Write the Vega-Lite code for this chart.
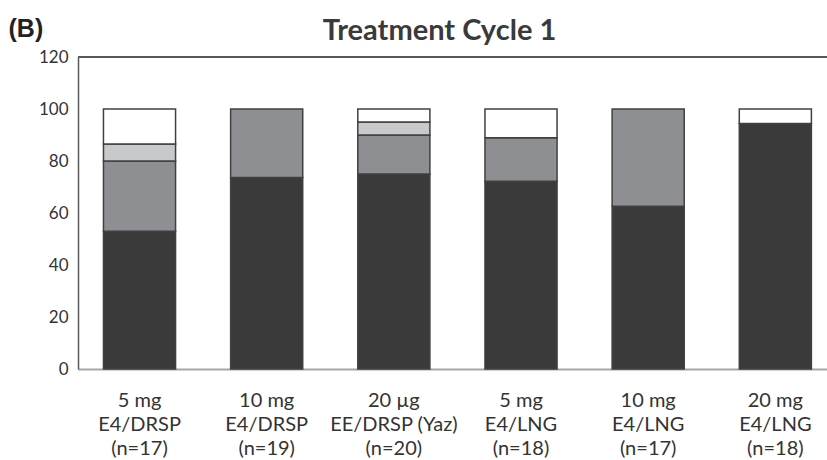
{
  "$schema": "https://vega.github.io/schema/vega-lite/v6.json",
  "width": 749,
  "height": 312,
  "autosize": {"type": "none"},
  "padding": {"left": 78, "top": 57, "right": 0, "bottom": 91},
  "background": "white",
  "title": {
    "text": "Treatment Cycle 1",
    "font": "Lato",
    "fontSize": 29,
    "fontWeight": "bold",
    "color": "#3a3a3a",
    "anchor": "middle",
    "frame": "group",
    "dx": -13,
    "dy": 67,
    "baseline": "alphabetic",
    "offset": 14
  },
  "config": {
    "view": {"stroke": null},
    "font": "Lato"
  },
  "data": {
    "values": [
      {"group": "5 mg|E4/DRSP|(n=17)", "level": "Level 1", "rank": 1, "value": 53},
      {"group": "5 mg|E4/DRSP|(n=17)", "level": "Level 2", "rank": 2, "value": 27},
      {"group": "5 mg|E4/DRSP|(n=17)", "level": "Level 3", "rank": 3, "value": 6.5},
      {"group": "5 mg|E4/DRSP|(n=17)", "level": "Level 4", "rank": 4, "value": 13.5},
      {"group": "10 mg|E4/DRSP|(n=19)", "level": "Level 1", "rank": 1, "value": 73.7},
      {"group": "10 mg|E4/DRSP|(n=19)", "level": "Level 2", "rank": 2, "value": 26.3},
      {"group": "20 µg|EE/DRSP (Yaz)|(n=20)", "level": "Level 1", "rank": 1, "value": 75},
      {"group": "20 µg|EE/DRSP (Yaz)|(n=20)", "level": "Level 2", "rank": 2, "value": 15},
      {"group": "20 µg|EE/DRSP (Yaz)|(n=20)", "level": "Level 3", "rank": 3, "value": 5},
      {"group": "20 µg|EE/DRSP (Yaz)|(n=20)", "level": "Level 4", "rank": 4, "value": 5},
      {"group": "5 mg|E4/LNG|(n=18)", "level": "Level 1", "rank": 1, "value": 72.2},
      {"group": "5 mg|E4/LNG|(n=18)", "level": "Level 2", "rank": 2, "value": 16.7},
      {"group": "5 mg|E4/LNG|(n=18)", "level": "Level 4", "rank": 4, "value": 11.1},
      {"group": "10 mg|E4/LNG|(n=17)", "level": "Level 1", "rank": 1, "value": 62.6},
      {"group": "10 mg|E4/LNG|(n=17)", "level": "Level 2", "rank": 2, "value": 37.4},
      {"group": "20 mg|E4/LNG|(n=18)", "level": "Level 1", "rank": 1, "value": 94.4},
      {"group": "20 mg|E4/LNG|(n=18)", "level": "Level 4", "rank": 4, "value": 5.6}
    ]
  },
  "layer": [
    {
      "mark": {"type": "bar", "stroke": "#404040", "strokeWidth": 1.5},
      "encoding": {
        "x": {
          "field": "group",
          "type": "nominal",
          "sort": null,
          "scale": {"paddingInner": 0.433, "paddingOuter": 0.1615, "align": 0.62},
          "axis": {
            "title": null,
            "labelExpr": "split(datum.label, '|')",
            "labelAngle": 0,
            "labelFontSize": 20,
            "labelLineHeight": 24,
            "labelBaseline": "top",
            "labelColor": "#333333",
            "labelPadding": 21,
            "ticks": false,
            "domainColor": "#a6a6a6",
            "domainWidth": 2
          }
        },
        "y": {
          "field": "value",
          "type": "quantitative",
          "stack": "zero",
          "scale": {"domain": [0, 120]},
          "axis": {
            "values": [0, 20, 40, 60, 80, 100, 120],
            "grid": false,
            "ticks": false,
            "labelFontSize": 17,
            "labelColor": "#333333",
            "labelPadding": 10,
            "domainColor": "#595959",
            "domainWidth": 1.5,
            "title": "(B)",
            "titleAngle": 0,
            "titleFont": "Liberation Sans",
            "titleFontSize": 25,
            "titleFontWeight": "bold",
            "titleColor": "#222222",
            "titleAlign": "left",
            "titleBaseline": "alphabetic",
            "titleX": -70,
            "titleY": -21
          }
        },
        "color": {
          "field": "level",
          "type": "nominal",
          "scale": {
            "domain": ["Level 1", "Level 2", "Level 3", "Level 4"],
            "range": ["#3a3a3a", "#8e8f93", "#c8c9cb", "#ffffff"]
          },
          "legend": null
        },
        "order": {"field": "rank", "type": "quantitative"}
      }
    },
    {
      "mark": {"type": "rule", "color": "#595959", "strokeWidth": 1.5},
      "encoding": {"y": {"datum": 120}}
    }
  ]
}
